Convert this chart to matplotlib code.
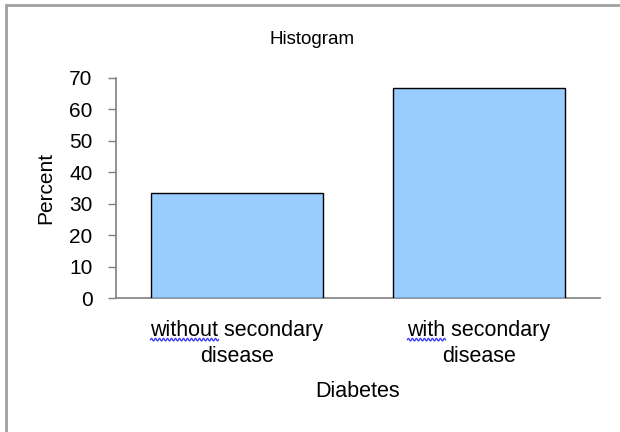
import numpy as np
import matplotlib
matplotlib.use("Agg")
import matplotlib.pyplot as plt
from matplotlib.patches import Rectangle
from matplotlib.lines import Line2D
from matplotlib.text import Text

plt.rcParams['font.family'] = ['Liberation Sans', 'DejaVu Sans']

categories = ["without secondary\ndisease", "with secondary\ndisease"]
percent = [33.33, 66.67]
y_ticks = [0, 10, 20, 30, 40, 50, 60, 70]

W, H = 620, 432
fig = plt.figure(figsize=(W / 100, H / 100), dpi=100)
fig.patch.set_facecolor("white")

# axes placed in pixel terms
left, right, top, bottom = 116, 600, 78, 298
ax = fig.add_axes([left / W, 1 - bottom / H, (right - left) / W, (bottom - top) / H])

x = np.arange(len(categories))
ax.bar(x, percent, width=0.71, color="#99CCFF", edgecolor="#000000", linewidth=1.0, zorder=3)

ax.set_xlim(-0.5, len(categories) - 0.5)
ax.set_ylim(0, 70)
ax.set_yticks(y_ticks)
ax.set_yticklabels([str(t) for t in y_ticks], fontsize=15)
ax.set_xticks(x)
cat_fs = 15.5
ax.set_xticklabels(categories, fontsize=cat_fs, linespacing=1.3)
ax.tick_params(axis="x", length=0, pad=16)
ax.tick_params(axis="y", length=6, width=1, color="#808080", pad=11)

for s in ["top", "right"]:
    ax.spines[s].set_visible(False)
for s in ["left", "bottom"]:
    ax.spines[s].set_color("#808080")
    ax.spines[s].set_linewidth(1.2)

ax.set_ylabel("Percent", fontsize=15, labelpad=10)
ax.set_xlabel("Diabetes", fontsize=15.5, labelpad=10)
fig.text(312 / W, 1 - 40 / H, "Histogram", ha="center", va="center", fontsize=13.5)

# outer chart border
fig.patches.append(Rectangle((6 / W, -0.1), 1.2, 1 - 5 / H + 0.1, transform=fig.transFigure,
                             fill=False, edgecolor="#a0a0a0", linewidth=2))

# wavy underline under the first word of each category label
fig.canvas.draw()
renderer = fig.canvas.get_renderer()
fs_px = cat_fs * 100 / 72
for lbl in ax.get_xticklabels():
    first_line = lbl.get_text().split("\n")[0]
    word = first_line.split(" ")[0]
    bb = lbl.get_window_extent(renderer)
    t = Text(0, 0, first_line, fontsize=cat_fs, fontfamily=lbl.get_fontfamily())
    t.set_figure(fig)
    ext = t.get_window_extent(renderer)
    tw = Text(0, 0, word, fontsize=cat_fs, fontfamily=lbl.get_fontfamily())
    tw.set_figure(fig)
    word_w = tw.get_window_extent(renderer).width
    cx = (bb.x0 + bb.x1) / 2
    x0 = cx - ext.width / 2
    baseline = bb.y1 - ext.height + 0.212 * fs_px
    ybase = baseline - 3
    xs = np.linspace(x0, x0 + word_w, int(word_w) * 2 + 1)
    ys = ybase + 1.3 * np.sin((xs - x0) * np.pi / 2)
    fig.add_artist(Line2D(xs / W, ys / H, transform=fig.transFigure,
                          color="#3333ff", linewidth=0.9))

fig.savefig("out.png", dpi=100)
